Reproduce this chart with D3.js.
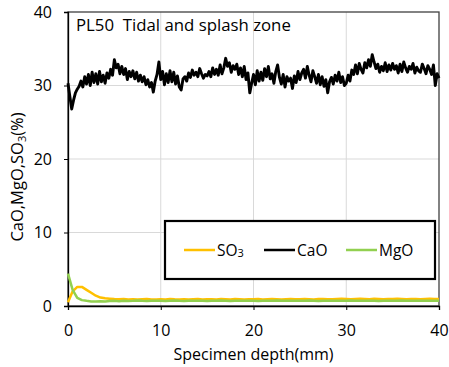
<!DOCTYPE html>
<html>
<head>
<meta charset="utf-8">
<script src="https://cdn.jsdelivr.net/npm/d3@7"></script>
<style>
  body { margin: 0; background: #fff; }
  svg text { font-family: "Open Sans", sans-serif; fill: #000; }
</style>
</head>
<body>
<div id="chart"></div>
<script>
// CaO every 0.2 mm, 0..40 mm
const caoValues = [
  30.3, 28.5, 26.8, 28.0, 29.0,
  29.5, 29.9, 30.6, 29.8, 31.2,
  30.2, 31.5, 30.0, 31.8, 30.4,
  31.6, 30.2, 31.9, 30.5, 31.4,
  30.3, 31.7, 31.0, 32.2, 31.4,
  33.5, 32.4, 32.9, 31.6, 32.6,
  31.5, 32.3, 30.8, 31.9, 31.2,
  32.0, 30.9, 31.8, 30.6, 31.4,
  30.5, 31.2, 30.1, 30.8, 29.8,
  30.4, 29.1, 30.6, 31.5, 33.2,
  30.8, 31.9, 30.1, 31.6, 30.4,
  32.0, 30.5, 31.8, 30.2, 31.3,
  29.8, 29.4, 30.9, 31.2, 30.6,
  31.7, 31.1, 32.1, 31.4, 31.8,
  31.2, 32.3, 31.6, 31.0, 31.5,
  31.3, 31.9, 31.2, 32.4, 31.5,
  32.2, 31.4, 32.8, 31.6, 32.4,
  33.7, 32.6, 33.1, 31.8, 32.7,
  32.2, 32.9, 31.5, 32.4, 31.2,
  32.6, 30.8, 31.7, 29.0, 30.3,
  31.5, 30.1, 32.0, 30.6, 31.8,
  30.7, 32.3, 31.2, 32.6, 30.9,
  31.6, 30.3, 31.9, 32.8, 31.1,
  30.2, 31.5, 29.8, 31.2, 30.6,
  31.0, 29.6, 31.3, 30.4, 31.9,
  30.8, 31.7, 32.2, 31.0, 32.6,
  31.4, 30.5, 32.0, 31.2, 30.3,
  31.5, 30.1, 31.2, 29.9, 30.8,
  29.0, 30.5, 31.1, 30.2, 31.4,
  30.6, 31.8, 30.4, 31.2, 30.0,
  30.3, 31.4, 30.6, 32.1, 31.5,
  32.8, 31.6, 33.0, 32.2, 31.7,
  33.1, 32.4, 33.5, 32.6, 34.2,
  33.2, 32.3, 32.9, 31.8, 32.6,
  32.0, 33.1, 31.9, 32.8, 32.1,
  33.0, 32.2, 32.7, 31.7, 32.9,
  31.9, 33.2, 32.4, 31.8, 32.6,
  32.2, 33.0, 31.7, 32.5, 32.0,
  31.8, 32.9, 32.3, 31.6, 32.7,
  32.2, 31.5, 32.8, 30.0, 31.6,
  31.0
];
const caoDepth = d3.range(caoValues.length).map(i => i * 0.2);

// SO3 and MgO every 0.5 mm
const so3Values = [
  0.5, 2.0, 2.6, 2.6, 2.2, 1.8, 1.4, 1.15, 1.05, 1.0,
  0.95, 0.92, 0.95, 0.9, 0.93, 0.9, 0.92, 0.95, 0.9, 0.88,
  0.92, 0.9, 0.95, 0.91, 0.9, 0.93, 0.89, 0.92, 0.95, 0.9,
  0.91, 0.93, 0.9, 0.94, 0.92, 0.9, 0.95, 0.92, 0.9, 0.93,
  0.91, 0.94, 0.9, 0.92, 0.95, 0.93, 0.9, 0.92, 0.94, 0.91,
  0.93, 0.95, 0.92, 0.9, 0.94, 0.96, 0.93, 0.91, 0.95, 0.97,
  0.94, 0.92, 0.96, 0.98, 0.95, 0.93, 0.97, 0.95, 0.93, 0.96,
  0.94, 0.97, 0.95, 0.93, 0.96, 0.94, 0.92, 0.95, 0.97, 0.94,
  0.95
];
const mgoValues = [
  4.4, 2.2, 1.1, 0.8, 0.7, 0.62, 0.6, 0.65, 0.6, 0.68,
  0.7, 0.66, 0.72, 0.68, 0.7, 0.74, 0.7, 0.68, 0.72, 0.7,
  0.73, 0.69, 0.71, 0.74, 0.7, 0.68, 0.72, 0.7, 0.73, 0.71,
  0.69, 0.72, 0.7, 0.74, 0.71, 0.69, 0.72, 0.7, 0.73, 0.7,
  0.72, 0.69, 0.73, 0.7, 0.72, 0.74, 0.7, 0.71, 0.73, 0.7,
  0.72, 0.7, 0.74, 0.71, 0.69, 0.72, 0.7, 0.73, 0.71, 0.7,
  0.72, 0.74, 0.7, 0.71, 0.73, 0.7, 0.72, 0.69, 0.71, 0.73,
  0.7, 0.72, 0.74, 0.71, 0.7, 0.72, 0.7, 0.73, 0.71, 0.7,
  0.72
];
const minorDepth = d3.range(so3Values.length).map(i => i * 0.5);

const xTicks = [0, 10, 20, 30, 40];
const yTicks = [0, 10, 20, 30, 40];

const W = 449, H = 367;
const margin = { top: 12, right: 10, bottom: 61, left: 68 };
const width = W - margin.left - margin.right;
const height = H - margin.top - margin.bottom;

const svg = d3.select('#chart').append('svg')
  .attr('width', W).attr('height', H);
const g = svg.append('g')
  .attr('transform', `translate(${margin.left},${margin.top})`);

const x = d3.scaleLinear().domain([0, 40]).range([0, width]);
const y = d3.scaleLinear().domain([0, 40]).range([height, 0]);

// gridlines
g.append('g').selectAll('line.vg')
  .data(xTicks.slice(1, -1)).enter().append('line')
  .attr('x1', d => x(d)).attr('x2', d => x(d))
  .attr('y1', 0).attr('y2', height)
  .attr('stroke', '#d9d9d9').attr('stroke-width', 1);
g.append('g').selectAll('line.hg')
  .data(yTicks.slice(1, -1)).enter().append('line')
  .attr('x1', 0).attr('x2', width)
  .attr('y1', d => y(d)).attr('y2', d => y(d))
  .attr('stroke', '#d9d9d9').attr('stroke-width', 1);

// frame
g.append('rect')
  .attr('x', 0).attr('y', 0).attr('width', width).attr('height', height)
  .attr('fill', 'none').attr('stroke', '#404040').attr('stroke-width', 1.3);

// axes
const xAxis = g.append('g')
  .attr('transform', `translate(0,${height})`)
  .call(d3.axisBottom(x).tickValues(xTicks).tickSize(4).tickPadding(15));
const yAxis = g.append('g')
  .call(d3.axisLeft(y).tickValues(yTicks).tickSize(4).tickPadding(12));
[xAxis, yAxis].forEach(a => {
  a.select('.domain').attr('stroke', '#000').attr('stroke-width', 1.3);
  a.selectAll('.tick line').attr('stroke', '#000');
  a.selectAll('.tick text').style('font-size', '16px').attr('fill', '#000');
});

// series
const lineCao = d3.line().x((d, i) => x(caoDepth[i])).y(d => y(d));
const lineMinor = d3.line().x((d, i) => x(minorDepth[i])).y(d => y(d));

g.append('path').datum(so3Values)
  .attr('fill', 'none').attr('stroke', '#FFC000').attr('stroke-width', 2.5)
  .attr('stroke-linejoin', 'round').attr('d', lineMinor);
g.append('path').datum(caoValues)
  .attr('fill', 'none').attr('stroke', '#000').attr('stroke-width', 2.9)
  .attr('stroke-linejoin', 'round').attr('d', lineCao);
g.append('path').datum(mgoValues)
  .attr('fill', 'none').attr('stroke', '#92D050').attr('stroke-width', 2.5)
  .attr('stroke-linejoin', 'round').attr('d', lineMinor);

// title
g.append('text')
  .attr('x', 8).attr('y', 19)
  .style('font-size', '16.8px')
  .attr('xml:space', 'preserve')
  .text('PL50  Tidal and splash zone');

// legend
const legend = svg.append('g').attr('transform', 'translate(165,221)');
legend.append('rect')
  .attr('width', 270).attr('height', 58)
  .attr('fill', '#fff').attr('stroke', '#000').attr('stroke-width', 2.2);
const legendItems = [
  { name: 'SO', sub: '3', color: '#FFC000', x: 19 },
  { name: 'CaO', sub: '', color: '#000', x: 99 },
  { name: 'MgO', sub: '', color: '#92D050', x: 181 }
];
legendItems.forEach(it => {
  legend.append('line')
    .attr('x1', it.x).attr('x2', it.x + 31)
    .attr('y1', 29).attr('y2', 29)
    .attr('stroke', it.color).attr('stroke-width', 2.5);
  const t = legend.append('text')
    .attr('x', it.x + 33).attr('y', 35)
    .style('font-size', '15.5px')
    .text(it.name);
  if (it.sub) t.append('tspan').style('font-size', '11px').attr('dy', 1).text(it.sub);
});

// axis titles
svg.append('text')
  .attr('x', margin.left + width / 2).attr('y', 360)
  .attr('text-anchor', 'middle').style('font-size', '16px')
  .text('Specimen depth(mm)');

const yl = svg.append('text')
  .attr('transform', `translate(23,${margin.top + height / 2 + 18}) rotate(-90)`)
  .attr('text-anchor', 'middle').style('font-size', '16.5px');
yl.append('tspan').text('CaO,MgO,SO');
yl.append('tspan').style('font-size', '11px').attr('dy', 3).text('3');
yl.append('tspan').attr('dy', -3).text('(%)');
</script>
</body>
</html>
